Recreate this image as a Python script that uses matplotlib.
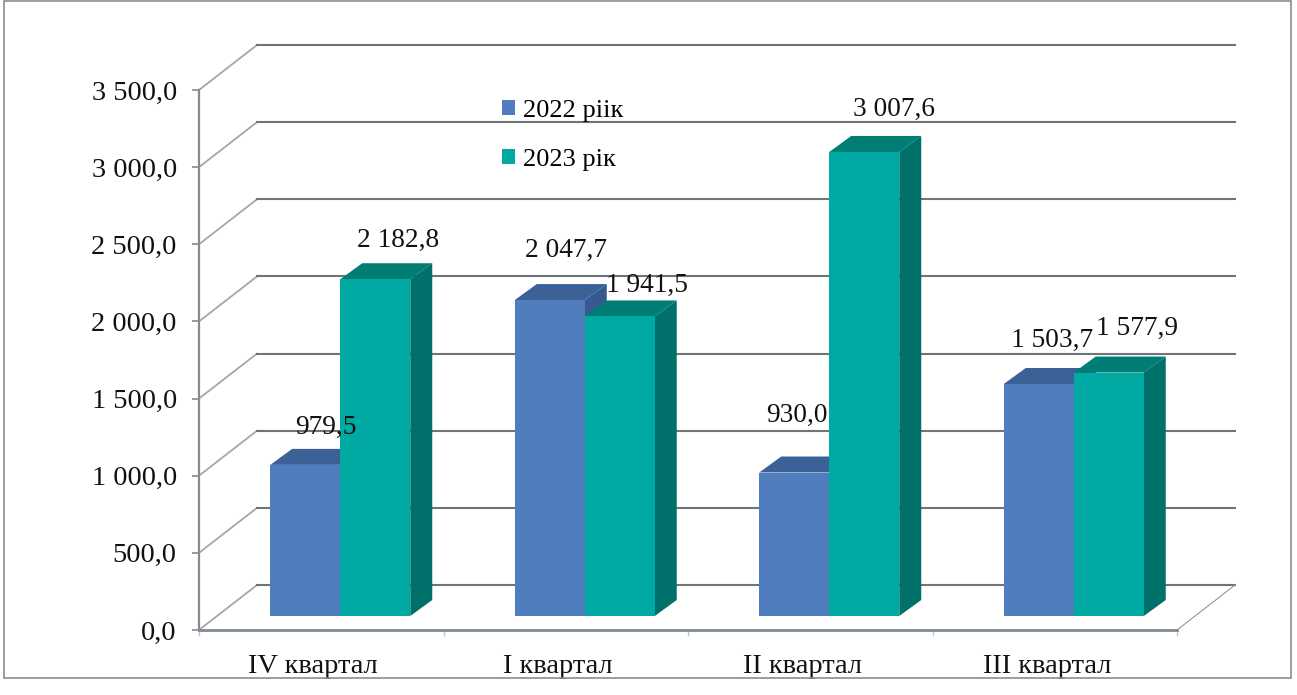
import numpy as np
import matplotlib
matplotlib.use('Agg')
import matplotlib.pyplot as plt
from matplotlib.patches import Patch, Polygon, Rectangle
from matplotlib.transforms import ScaledTranslation, offset_copy

quarters = ['IV квартал', 'I квартал', 'II квартал', 'III квартал']
values_2022 = [979.5, 2047.7, 930.0, 1503.7]
values_2023 = [2182.8, 1941.5, 3007.6, 1577.9]
labels_2022 = ['979,5', '2 047,7', '930,0', '1 503,7']
labels_2023 = ['2 182,8', '1 941,5', '3 007,6', '1 577,9']
y_ticks = [0, 500, 1000, 1500, 2000, 2500, 3000, 3500]
y_labels = ['0,0', '500,0', '1 000,0', '1 500,0', '2 000,0', '2 500,0', '3 000,0', '3 500,0']
series_names = ['2022 ріік', '2023 рік']

W, H, DPI = 1297, 695, 100
X0, X1, Y0, Y1 = 199, 1177, 630, 90   # plot area in pixels

plt.rcParams['font.family'] = ['Liberation Serif', 'DejaVu Serif']
fig = plt.figure(figsize=(W / DPI, H / DPI), dpi=DPI)
ax = fig.add_axes([X0 / W, 1 - Y0 / H, (X1 - X0) / W, (Y0 - Y1) / H])
ax.set_xlim(0, 4)
ax.set_ylim(0, 3500)
ax.patch.set_alpha(0)

# pixel sizes in data units
px_x = 4 / (X1 - X0)
px_y = 3500 / (Y0 - Y1)

# outer border
fig.add_artist(Rectangle((4 / W, 1 - 678 / H), 1287 / W, 677 / H, transform=fig.transFigure,
                         fill=False, edgecolor='#8c8c8c', linewidth=1.2))

# walls of the 3d box
wall_x = 58 * px_x
wall_y = 45 * px_y
for v in y_ticks:
    ax.plot([0, wall_x], [v, v + wall_y], color='#a6a6a6', linewidth=1.3, zorder=1, clip_on=False)
    ax.plot([wall_x, 4 + wall_x], [v + wall_y, v + wall_y], color='#6f7476',
            linewidth=1.5, zorder=1, clip_on=False)
ax.plot([4, 4 + wall_x], [0, wall_y], color='#8a8a8a', linewidth=0.7, zorder=1, clip_on=False)

# bars, shifted up and right off the front plane
bar_tr = offset_copy(ax.transData, fig=fig, x=19, y=14, units='dots')
bar_w = 70 * px_x
depth_x = 22 * px_x
depth_y = 16 * px_y


def draw_bars(xs, vals, front, top, side, z):
    ax.bar(xs, vals, width=bar_w, align='edge', color=front, linewidth=0, zorder=z + 1,
           transform=bar_tr, clip_on=False)
    for x, v in zip(xs, vals):
        r = x + bar_w
        ax.add_patch(Polygon([(x, v), (x + depth_x, v + depth_y), (r + depth_x, v + depth_y), (r, v)],
                             facecolor=top, edgecolor='none', transform=bar_tr, zorder=z, clip_on=False))
        ax.add_patch(Polygon([(r, 0), (r + depth_x, depth_y), (r + depth_x, v + depth_y), (r, v)],
                             facecolor=side, edgecolor='none', transform=bar_tr, zorder=z, clip_on=False))


idx = np.arange(len(quarters))
left = idx + 0.5 - bar_w
draw_bars(left, values_2022, '#4f7dbd', '#3b6196', '#365a8f', 2)
draw_bars(left + bar_w, values_2023, '#00a9a2', '#007d74', '#00716a', 4)

# value labels, moved by hand in the original chart
off_2022 = [(21, 37), (16, 50), (3, 57), (13, 44)]
off_2023 = [(23, 39), (27, 31), (30, 43), (28, 44)]
for xs, vals, texts, offs in [(left, values_2022, labels_2022, off_2022),
                              (left + bar_w, values_2023, labels_2023, off_2023)]:
    for x, v, t, (ox, oy) in zip(xs, vals, texts, offs):
        tr = offset_copy(bar_tr, fig=fig, x=ox, y=oy, units='dots')
        ax.text(x + bar_w / 2, v, t, transform=tr, ha='center', va='center',
                fontsize=19.7, color='#111111', zorder=8)

# axes
for s in ['top', 'right']:
    ax.spines[s].set_visible(False)
ax.spines['left'].set_color('#868b90')
ax.spines['bottom'].set_color('#7f8a96')
ax.spines['left'].set_linewidth(1.6)
ax.spines['bottom'].set_linewidth(2)
ax.spines['left'].set_zorder(7)
ax.spines['bottom'].set_zorder(7)
ax.set_yticks(y_ticks)
ax.set_yticklabels(y_labels, fontsize=20.5, color='#111111')
ax.tick_params(axis='y', length=5, width=1.2, color='#868b90', pad=11)
ax.set_xticks(np.arange(5))
ax.set_xticklabels([])
ax.tick_params(axis='x', which='major', length=4, width=1, color='#c4c4c4')
ax.set_xticks(idx + 0.5, minor=True)
ax.set_xticklabels(quarters, minor=True, fontsize=20.5, color='#111111')
ax.tick_params(axis='x', which='minor', length=0, pad=17.5)
for lab in ax.get_xticklabels(minor=True):
    lab.set_transform(lab.get_transform() + ScaledTranslation(-8 / DPI, 0, fig.dpi_scale_trans))

# legend
handles = [Patch(facecolor='#4f7dbd', edgecolor='none'), Patch(facecolor='#00a9a2', edgecolor='none')]
ax.legend(handles, series_names, loc='upper left', bbox_to_anchor=((502 - X0) / (X1 - X0), (Y0 - 100) / (Y0 - Y1)),
          frameon=False, fontsize=19, handlelength=0.5, handleheight=0.5, handletextpad=0.3,
          labelspacing=1.03, borderpad=0, borderaxespad=0)

fig.savefig('out.png', dpi=DPI, facecolor='white')
